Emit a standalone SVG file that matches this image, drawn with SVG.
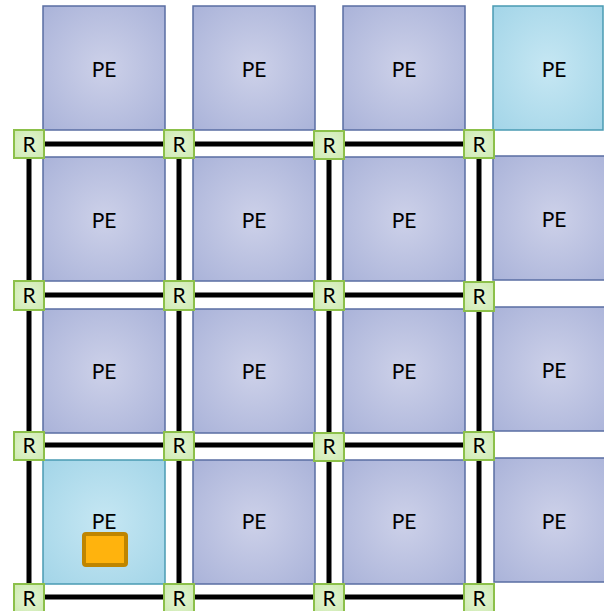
<svg xmlns="http://www.w3.org/2000/svg" width="604" height="611" viewBox="0 0 604 611">
  <defs>
    <radialGradient id="gPE" cx="50%" cy="50%" r="70%">
      <stop offset="0" stop-color="#cdd1e9"/>
      <stop offset="1" stop-color="#aab3d9"/>
    </radialGradient>
    <radialGradient id="gPEb" cx="50%" cy="50%" r="70%">
      <stop offset="0" stop-color="#c6e7f3"/>
      <stop offset="1" stop-color="#a3d5e8"/>
    </radialGradient>
    <radialGradient id="gR" cx="50%" cy="50%" r="70%">
      <stop offset="0" stop-color="#e4f5d3"/>
      <stop offset="1" stop-color="#cdeab0"/>
    </radialGradient>
  </defs>
  <style>
    .pe rect { fill: url(#gPE); stroke: #5a6ea3; stroke-width: 1.5; }
    .pe.hl rect { fill: url(#gPEb); stroke: #4a9bb3; }
    .pe text, .r text { font-family: Lato, "Liberation Sans", sans-serif; font-size: 21px; fill: #000; text-anchor: middle; }
    .r rect { fill: url(#gR); stroke: #8cc04a; stroke-width: 2; }
    .link { stroke: #000; stroke-width: 5; fill: none; }
    .task { fill: #ffb30d; stroke: #bf8500; stroke-width: 4; }
  </style>

  <!-- PE row 1 -->
  <g id="pe-1-1" class="pe"><rect x="43" y="6" width="122" height="124"/><text x="104" y="77">PE</text></g>
  <g id="pe-1-2" class="pe"><rect x="193" y="6" width="122" height="124"/><text x="254" y="77">PE</text></g>
  <g id="pe-1-3" class="pe"><rect x="343" y="6" width="122" height="124"/><text x="404" y="77">PE</text></g>
  <g id="pe-1-4" class="pe hl"><rect x="493" y="6" width="110" height="124"/><text x="554" y="77">PE</text></g>
  <!-- PE row 2 -->
  <g id="pe-2-1" class="pe"><rect x="43" y="157" width="122" height="124"/><text x="104" y="228">PE</text></g>
  <g id="pe-2-2" class="pe"><rect x="193" y="157" width="122" height="124"/><text x="254" y="228">PE</text></g>
  <g id="pe-2-3" class="pe"><rect x="343" y="157" width="122" height="124"/><text x="404" y="228">PE</text></g>
  <g id="pe-2-4" class="pe"><rect x="493" y="156" width="122" height="124"/><text x="554" y="227">PE</text></g>
  <!-- PE row 3 -->
  <g id="pe-3-1" class="pe"><rect x="43" y="309" width="122" height="124"/><text x="104" y="379">PE</text></g>
  <g id="pe-3-2" class="pe"><rect x="193" y="309" width="122" height="124"/><text x="254" y="379">PE</text></g>
  <g id="pe-3-3" class="pe"><rect x="343" y="309" width="122" height="124"/><text x="404" y="379">PE</text></g>
  <g id="pe-3-4" class="pe"><rect x="493" y="307" width="122" height="124"/><text x="554" y="378">PE</text></g>
  <!-- PE row 4 -->
  <g id="pe-4-1" class="pe hl"><rect x="43" y="460" width="122" height="124"/><text x="104" y="529">PE</text>
    <rect class="task" x="84" y="534" width="42" height="31" rx="2" style="fill:#ffb30d;stroke:#bf8500;stroke-width:4"/></g>
  <g id="pe-4-2" class="pe"><rect x="193" y="460" width="122" height="124"/><text x="254" y="529">PE</text></g>
  <g id="pe-4-3" class="pe"><rect x="343" y="460" width="122" height="124"/><text x="404" y="529">PE</text></g>
  <g id="pe-4-4" class="pe"><rect x="494" y="458" width="122" height="124"/><text x="554" y="529">PE</text></g>

  <!-- connectors -->
  <g id="connectors">
    <line class="link" x1="29" y1="144" x2="479" y2="144"/>
    <line class="link" x1="29" y1="295" x2="479" y2="295"/>
    <line class="link" x1="29" y1="445" x2="479" y2="445"/>
    <line class="link" x1="29" y1="597" x2="479" y2="597"/>
    <line class="link" x1="29" y1="144" x2="29" y2="597"/>
    <line class="link" x1="179" y1="144" x2="179" y2="597"/>
    <line class="link" x1="329" y1="144" x2="329" y2="597"/>
    <line class="link" x1="479" y1="144" x2="479" y2="597"/>
  </g>

  <!-- routers -->
  <g id="r-1-1" class="r"><rect x="14" y="130" width="30" height="28"/><text x="29" y="152">R</text></g>
  <g id="r-1-2" class="r"><rect x="164" y="130" width="30" height="28"/><text x="179" y="152">R</text></g>
  <g id="r-1-3" class="r"><rect x="314" y="131" width="30" height="28"/><text x="329" y="153">R</text></g>
  <g id="r-1-4" class="r"><rect x="464" y="130" width="30" height="28"/><text x="479" y="152">R</text></g>
  <g id="r-2-1" class="r"><rect x="14" y="281" width="30" height="29"/><text x="29" y="303">R</text></g>
  <g id="r-2-2" class="r"><rect x="164" y="281" width="30" height="29"/><text x="179" y="303">R</text></g>
  <g id="r-2-3" class="r"><rect x="314" y="281" width="30" height="29"/><text x="329" y="303">R</text></g>
  <g id="r-2-4" class="r"><rect x="464" y="282" width="30" height="29"/><text x="479" y="304">R</text></g>
  <g id="r-3-1" class="r"><rect x="14" y="432" width="30" height="28"/><text x="29" y="453">R</text></g>
  <g id="r-3-2" class="r"><rect x="164" y="432" width="30" height="28"/><text x="179" y="453">R</text></g>
  <g id="r-3-3" class="r"><rect x="314" y="433" width="30" height="28"/><text x="329" y="454">R</text></g>
  <g id="r-3-4" class="r"><rect x="464" y="432" width="30" height="28"/><text x="479" y="453">R</text></g>
  <g id="r-4-1" class="r"><rect x="14" y="584" width="30" height="29"/><text x="29" y="606">R</text></g>
  <g id="r-4-2" class="r"><rect x="164" y="584" width="30" height="29"/><text x="179" y="606">R</text></g>
  <g id="r-4-3" class="r"><rect x="314" y="584" width="30" height="29"/><text x="329" y="606">R</text></g>
  <g id="r-4-4" class="r"><rect x="464" y="584" width="30" height="29"/><text x="479" y="606">R</text></g>
</svg>
